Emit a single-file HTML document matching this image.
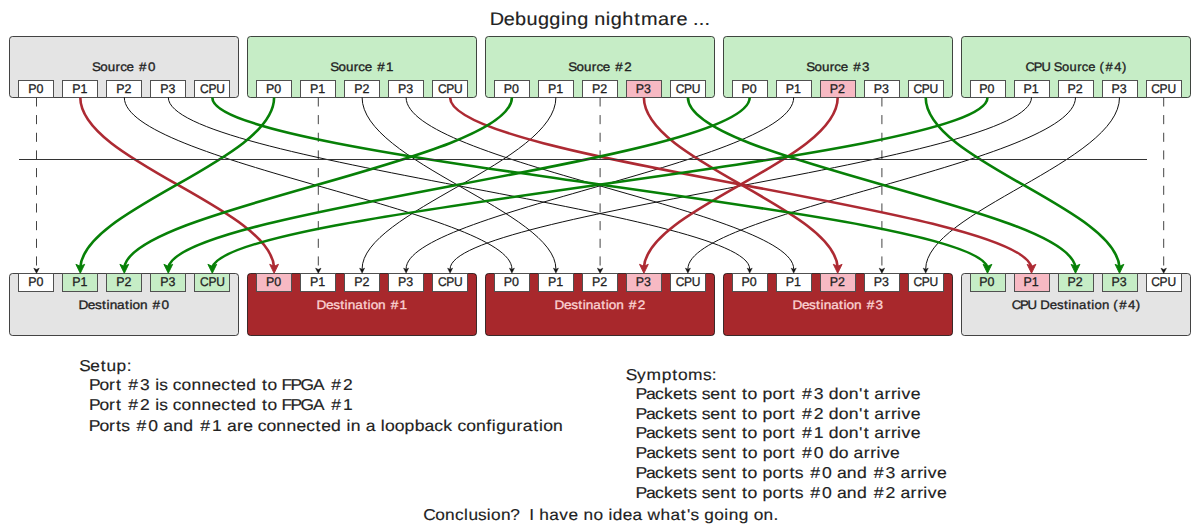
<!DOCTYPE html>
<html><head><meta charset="utf-8"><style>
html,body{margin:0;padding:0;background:#fff;width:1200px;height:530px;overflow:hidden}
svg{display:block;font-family:"Liberation Sans", sans-serif;text-rendering:geometricPrecision}
</style></head><body>
<svg width="1200" height="530" viewBox="0 0 1200 530">
<rect width="1200" height="530" fill="#fff"/>
<text x="448.16 461.08 471.37 481.82 492.27 502.72 513.28 517.75 528.19 538.57 543.88 554.43 558.90 569.35 580.33 586.53 602.12 612.58 619.01 628.86 634.10 639.34 644.57" y="24.9" font-size="18.2" fill="#222222" stroke="#222222" stroke-width="0.15" transform="scale(1.0928,1)">Debugging nightmare ...</text>
<rect x="9.5" y="36.5" width="229" height="61.00" rx="3" ry="3" fill="#e4e4e4" stroke="#000" stroke-opacity="0.72" stroke-width="1"/>
<rect x="18.5" y="80.5" width="35" height="17.00" fill="#ffffff" stroke="#505050" stroke-width="1"/>
<rect x="62.5" y="80.5" width="35" height="17.00" fill="#ffffff" stroke="#505050" stroke-width="1"/>
<rect x="106.5" y="80.5" width="35" height="17.00" fill="#ffffff" stroke="#505050" stroke-width="1"/>
<rect x="150.5" y="80.5" width="35" height="17.00" fill="#ffffff" stroke="#505050" stroke-width="1"/>
<rect x="194.5" y="80.5" width="35" height="17.00" fill="#ffffff" stroke="#505050" stroke-width="1"/>
<rect x="247.5" y="36.5" width="229" height="61.00" rx="3" ry="3" fill="#c6edc6" stroke="#000" stroke-opacity="0.72" stroke-width="1"/>
<rect x="256.5" y="80.5" width="35" height="17.00" fill="#ffffff" stroke="#505050" stroke-width="1"/>
<rect x="300.5" y="80.5" width="35" height="17.00" fill="#ffffff" stroke="#505050" stroke-width="1"/>
<rect x="344.5" y="80.5" width="35" height="17.00" fill="#ffffff" stroke="#505050" stroke-width="1"/>
<rect x="388.5" y="80.5" width="35" height="17.00" fill="#ffffff" stroke="#505050" stroke-width="1"/>
<rect x="432.5" y="80.5" width="35" height="17.00" fill="#ffffff" stroke="#505050" stroke-width="1"/>
<rect x="485.5" y="36.5" width="229" height="61.00" rx="3" ry="3" fill="#c6edc6" stroke="#000" stroke-opacity="0.72" stroke-width="1"/>
<rect x="494.5" y="80.5" width="35" height="17.00" fill="#ffffff" stroke="#505050" stroke-width="1"/>
<rect x="538.5" y="80.5" width="35" height="17.00" fill="#ffffff" stroke="#505050" stroke-width="1"/>
<rect x="582.5" y="80.5" width="35" height="17.00" fill="#ffffff" stroke="#505050" stroke-width="1"/>
<rect x="626.5" y="80.5" width="35" height="17.00" fill="#f7b9c3" stroke="#505050" stroke-width="1"/>
<rect x="670.5" y="80.5" width="35" height="17.00" fill="#ffffff" stroke="#505050" stroke-width="1"/>
<rect x="723.5" y="36.5" width="229" height="61.00" rx="3" ry="3" fill="#c6edc6" stroke="#000" stroke-opacity="0.72" stroke-width="1"/>
<rect x="732.5" y="80.5" width="35" height="17.00" fill="#ffffff" stroke="#505050" stroke-width="1"/>
<rect x="776.5" y="80.5" width="35" height="17.00" fill="#ffffff" stroke="#505050" stroke-width="1"/>
<rect x="820.5" y="80.5" width="35" height="17.00" fill="#f7b9c3" stroke="#505050" stroke-width="1"/>
<rect x="864.5" y="80.5" width="35" height="17.00" fill="#ffffff" stroke="#505050" stroke-width="1"/>
<rect x="908.5" y="80.5" width="35" height="17.00" fill="#ffffff" stroke="#505050" stroke-width="1"/>
<rect x="961.5" y="36.5" width="229" height="61.00" rx="3" ry="3" fill="#c6edc6" stroke="#000" stroke-opacity="0.72" stroke-width="1"/>
<rect x="970.5" y="80.5" width="35" height="17.00" fill="#ffffff" stroke="#505050" stroke-width="1"/>
<rect x="1014.5" y="80.5" width="35" height="17.00" fill="#ffffff" stroke="#505050" stroke-width="1"/>
<rect x="1058.5" y="80.5" width="35" height="17.00" fill="#ffffff" stroke="#505050" stroke-width="1"/>
<rect x="1102.5" y="80.5" width="35" height="17.00" fill="#ffffff" stroke="#505050" stroke-width="1"/>
<rect x="1146.5" y="80.5" width="35" height="17.00" fill="#ffffff" stroke="#505050" stroke-width="1"/>
<rect x="9.5" y="273.5" width="229" height="62.00" rx="3" ry="3" fill="#e4e4e4" stroke="#000" stroke-opacity="0.72" stroke-width="1"/>
<rect x="18.5" y="273.5" width="35" height="18.00" fill="#ffffff" stroke="#505050" stroke-width="1"/>
<rect x="62.5" y="273.5" width="35" height="18.00" fill="#c6edc6" stroke="#505050" stroke-width="1"/>
<rect x="106.5" y="273.5" width="35" height="18.00" fill="#c6edc6" stroke="#505050" stroke-width="1"/>
<rect x="150.5" y="273.5" width="35" height="18.00" fill="#c6edc6" stroke="#505050" stroke-width="1"/>
<rect x="194.5" y="273.5" width="35" height="18.00" fill="#c6edc6" stroke="#505050" stroke-width="1"/>
<rect x="247.5" y="273.5" width="229" height="62.00" rx="3" ry="3" fill="#a8282c" stroke="#000" stroke-opacity="0.72" stroke-width="1"/>
<rect x="256.5" y="273.5" width="35" height="18.00" fill="#f7b9c3" stroke="#505050" stroke-width="1"/>
<rect x="300.5" y="273.5" width="35" height="18.00" fill="#ffffff" stroke="#505050" stroke-width="1"/>
<rect x="344.5" y="273.5" width="35" height="18.00" fill="#ffffff" stroke="#505050" stroke-width="1"/>
<rect x="388.5" y="273.5" width="35" height="18.00" fill="#ffffff" stroke="#505050" stroke-width="1"/>
<rect x="432.5" y="273.5" width="35" height="18.00" fill="#ffffff" stroke="#505050" stroke-width="1"/>
<rect x="485.5" y="273.5" width="229" height="62.00" rx="3" ry="3" fill="#a8282c" stroke="#000" stroke-opacity="0.72" stroke-width="1"/>
<rect x="494.5" y="273.5" width="35" height="18.00" fill="#ffffff" stroke="#505050" stroke-width="1"/>
<rect x="538.5" y="273.5" width="35" height="18.00" fill="#ffffff" stroke="#505050" stroke-width="1"/>
<rect x="582.5" y="273.5" width="35" height="18.00" fill="#ffffff" stroke="#505050" stroke-width="1"/>
<rect x="626.5" y="273.5" width="35" height="18.00" fill="#f7b9c3" stroke="#505050" stroke-width="1"/>
<rect x="670.5" y="273.5" width="35" height="18.00" fill="#ffffff" stroke="#505050" stroke-width="1"/>
<rect x="723.5" y="273.5" width="229" height="62.00" rx="3" ry="3" fill="#a8282c" stroke="#000" stroke-opacity="0.72" stroke-width="1"/>
<rect x="732.5" y="273.5" width="35" height="18.00" fill="#ffffff" stroke="#505050" stroke-width="1"/>
<rect x="776.5" y="273.5" width="35" height="18.00" fill="#ffffff" stroke="#505050" stroke-width="1"/>
<rect x="820.5" y="273.5" width="35" height="18.00" fill="#f7b9c3" stroke="#505050" stroke-width="1"/>
<rect x="864.5" y="273.5" width="35" height="18.00" fill="#ffffff" stroke="#505050" stroke-width="1"/>
<rect x="908.5" y="273.5" width="35" height="18.00" fill="#ffffff" stroke="#505050" stroke-width="1"/>
<rect x="961.5" y="273.5" width="229" height="62.00" rx="3" ry="3" fill="#e4e4e4" stroke="#000" stroke-opacity="0.72" stroke-width="1"/>
<rect x="970.5" y="273.5" width="35" height="18.00" fill="#c6edc6" stroke="#505050" stroke-width="1"/>
<rect x="1014.5" y="273.5" width="35" height="18.00" fill="#f7b9c3" stroke="#505050" stroke-width="1"/>
<rect x="1058.5" y="273.5" width="35" height="18.00" fill="#c6edc6" stroke="#505050" stroke-width="1"/>
<rect x="1102.5" y="273.5" width="35" height="18.00" fill="#c6edc6" stroke="#505050" stroke-width="1"/>
<rect x="1146.5" y="273.5" width="35" height="18.00" fill="#ffffff" stroke="#505050" stroke-width="1"/>
<line x1="36.5" y1="97.4" x2="36.5" y2="269.4" stroke="#444" stroke-width="1" stroke-dasharray="9.1,8.57"/>
<polygon points="36.50,273.3 33.80,268.2 36.50,269.4 39.20,268.2" fill="#111" stroke="#111" stroke-width="0.5" stroke-linejoin="round"/>
<line x1="318.3" y1="97.4" x2="318.3" y2="269.4" stroke="#444" stroke-width="1" stroke-dasharray="9.1,8.57"/>
<polygon points="318.30,273.3 315.60,268.2 318.30,269.4 321.00,268.2" fill="#111" stroke="#111" stroke-width="0.5" stroke-linejoin="round"/>
<line x1="600.1000000000001" y1="97.4" x2="600.1000000000001" y2="269.4" stroke="#444" stroke-width="1" stroke-dasharray="9.1,8.57"/>
<polygon points="600.10,273.3 597.40,268.2 600.10,269.4 602.80,268.2" fill="#111" stroke="#111" stroke-width="0.5" stroke-linejoin="round"/>
<line x1="881.9000000000001" y1="97.4" x2="881.9000000000001" y2="269.4" stroke="#444" stroke-width="1" stroke-dasharray="9.1,8.57"/>
<polygon points="881.90,273.3 879.20,268.2 881.90,269.4 884.60,268.2" fill="#111" stroke="#111" stroke-width="0.5" stroke-linejoin="round"/>
<line x1="1163.7" y1="97.4" x2="1163.7" y2="269.4" stroke="#444" stroke-width="1" stroke-dasharray="9.1,8.57"/>
<polygon points="1163.70,273.3 1161.00,268.2 1163.70,269.4 1166.40,268.2" fill="#111" stroke="#111" stroke-width="0.5" stroke-linejoin="round"/>
<path d="M124.30,97.40 C124.30,161.60 511.90,211.90 511.90,269.00" fill="none" stroke="#111" stroke-width="1.0"/><polygon points="511.90,273.30 509.30,268.10 511.90,269.24 514.50,268.10" fill="#111" stroke="#111" stroke-width="0.35" stroke-linejoin="round"/>
<path d="M168.30,97.40 C168.30,161.60 749.70,211.90 749.70,269.00" fill="none" stroke="#111" stroke-width="1.0"/><polygon points="749.70,273.30 747.10,268.10 749.70,269.24 752.30,268.10" fill="#111" stroke="#111" stroke-width="0.35" stroke-linejoin="round"/>
<path d="M362.10,97.40 C362.10,161.60 555.90,211.90 555.90,269.00" fill="none" stroke="#111" stroke-width="1.0"/><polygon points="555.90,273.30 553.30,268.10 555.90,269.24 558.50,268.10" fill="#111" stroke="#111" stroke-width="0.35" stroke-linejoin="round"/>
<path d="M406.10,97.40 C406.10,161.60 793.70,211.90 793.70,269.00" fill="none" stroke="#111" stroke-width="1.0"/><polygon points="793.70,273.30 791.10,268.10 793.70,269.24 796.30,268.10" fill="#111" stroke="#111" stroke-width="0.35" stroke-linejoin="round"/>
<path d="M555.90,97.40 C555.90,161.60 362.10,211.90 362.10,269.00" fill="none" stroke="#111" stroke-width="1.0"/><polygon points="362.10,273.30 359.50,268.10 362.10,269.24 364.70,268.10" fill="#111" stroke="#111" stroke-width="0.35" stroke-linejoin="round"/>
<path d="M793.70,97.40 C793.70,161.60 406.10,211.90 406.10,269.00" fill="none" stroke="#111" stroke-width="1.0"/><polygon points="406.10,273.30 403.50,268.10 406.10,269.24 408.70,268.10" fill="#111" stroke="#111" stroke-width="0.35" stroke-linejoin="round"/>
<path d="M1031.50,97.40 C1031.50,161.60 450.10,211.90 450.10,269.00" fill="none" stroke="#111" stroke-width="1.0"/><polygon points="450.10,273.30 447.50,268.10 450.10,269.24 452.70,268.10" fill="#111" stroke="#111" stroke-width="0.35" stroke-linejoin="round"/>
<path d="M1075.50,97.40 C1075.50,161.60 687.90,211.90 687.90,269.00" fill="none" stroke="#111" stroke-width="1.0"/><polygon points="687.90,273.30 685.30,268.10 687.90,269.24 690.50,268.10" fill="#111" stroke="#111" stroke-width="0.35" stroke-linejoin="round"/>
<path d="M1119.50,97.40 C1119.50,161.60 925.70,211.90 925.70,269.00" fill="none" stroke="#111" stroke-width="1.0"/><polygon points="925.70,273.30 923.10,268.10 925.70,269.24 928.30,268.10" fill="#111" stroke="#111" stroke-width="0.35" stroke-linejoin="round"/>
<path d="M80.30,97.40 C80.30,160.19 269.81,207.93 274.03,267.00" fill="none" stroke="#ad2a33" stroke-width="2.6"/><polygon points="274.10,273.30 269.70,264.30 274.10,266.28 278.50,264.30" fill="#ad2a33" stroke="#ad2a33" stroke-width="0.91" stroke-linejoin="round"/>
<path d="M450.10,97.40 C450.10,160.19 1018.62,207.93 1031.29,267.00" fill="none" stroke="#ad2a33" stroke-width="2.6"/><polygon points="1031.50,273.30 1027.10,264.30 1031.50,266.28 1035.90,264.30" fill="#ad2a33" stroke="#ad2a33" stroke-width="0.91" stroke-linejoin="round"/>
<path d="M643.90,97.40 C643.90,160.19 833.41,207.93 837.63,267.00" fill="none" stroke="#ad2a33" stroke-width="2.6"/><polygon points="837.70,273.30 833.30,264.30 837.70,266.28 842.10,264.30" fill="#ad2a33" stroke="#ad2a33" stroke-width="0.91" stroke-linejoin="round"/>
<path d="M837.70,97.40 C837.70,160.19 648.19,207.93 643.97,267.00" fill="none" stroke="#ad2a33" stroke-width="2.6"/><polygon points="643.90,273.30 639.50,264.30 643.90,266.28 648.30,264.30" fill="#ad2a33" stroke="#ad2a33" stroke-width="0.91" stroke-linejoin="round"/>
<path d="M212.30,97.40 C212.30,160.19 970.33,207.93 987.21,267.00" fill="none" stroke="#078007" stroke-width="2.6"/><polygon points="987.50,273.30 983.10,264.30 987.50,266.28 991.90,264.30" fill="#078007" stroke="#078007" stroke-width="0.91" stroke-linejoin="round"/>
<path d="M274.10,97.40 C274.10,160.19 84.59,207.93 80.37,267.00" fill="none" stroke="#078007" stroke-width="2.6"/><polygon points="80.30,273.30 75.90,264.30 80.30,266.28 84.70,264.30" fill="#078007" stroke="#078007" stroke-width="0.91" stroke-linejoin="round"/>
<path d="M511.90,97.40 C511.90,160.19 132.88,207.93 124.44,267.00" fill="none" stroke="#078007" stroke-width="2.6"/><polygon points="124.30,273.30 119.90,264.30 124.30,266.28 128.70,264.30" fill="#078007" stroke="#078007" stroke-width="0.91" stroke-linejoin="round"/>
<path d="M687.90,97.40 C687.90,160.19 1066.92,207.93 1075.36,267.00" fill="none" stroke="#078007" stroke-width="2.6"/><polygon points="1075.50,273.30 1071.10,264.30 1075.50,266.28 1079.90,264.30" fill="#078007" stroke="#078007" stroke-width="0.91" stroke-linejoin="round"/>
<path d="M749.70,97.40 C749.70,160.19 181.18,207.93 168.51,267.00" fill="none" stroke="#078007" stroke-width="2.6"/><polygon points="168.30,273.30 163.90,264.30 168.30,266.28 172.70,264.30" fill="#078007" stroke="#078007" stroke-width="0.91" stroke-linejoin="round"/>
<path d="M925.70,97.40 C925.70,160.19 1115.21,207.93 1119.43,267.00" fill="none" stroke="#078007" stroke-width="2.6"/><polygon points="1119.50,273.30 1115.10,264.30 1119.50,266.28 1123.90,264.30" fill="#078007" stroke="#078007" stroke-width="0.91" stroke-linejoin="round"/>
<path d="M987.50,97.40 C987.50,160.19 229.47,207.93 212.59,267.00" fill="none" stroke="#078007" stroke-width="2.6"/><polygon points="212.30,273.30 207.90,264.30 212.30,266.28 216.70,264.30" fill="#078007" stroke="#078007" stroke-width="0.91" stroke-linejoin="round"/>
<line x1="19" y1="159.5" x2="1147" y2="159.5" stroke="#333" stroke-width="1"/>
<text x="85.55 93.18 100.12 107.33 111.65 117.55 124.47 129.19 137.40" y="70.7" font-size="12.4" fill="#222222" stroke="#222222" stroke-width="0.3" transform="scale(1.0767,1)">Source #0</text>
<text x="28.53 36.89" y="92.6" font-size="12.6" fill="#222222" stroke="#222222" stroke-width="0.3" transform="scale(0.9867,1)">P0</text>
<text x="73.28 81.64" y="92.6" font-size="12.6" fill="#222222" stroke="#222222" stroke-width="0.3" transform="scale(0.9867,1)">P1</text>
<text x="117.94 126.30" y="92.6" font-size="12.6" fill="#222222" stroke="#222222" stroke-width="0.3" transform="scale(0.9867,1)">P2</text>
<text x="162.41 170.77" y="92.6" font-size="12.6" fill="#222222" stroke="#222222" stroke-width="0.3" transform="scale(0.9867,1)">P3</text>
<text x="210.06 218.74 226.94" y="92.6" font-size="12.6" fill="#222222" stroke="#222222" stroke-width="0.3" transform="scale(0.9527,1)">CPU</text>
<text x="306.74 314.37 321.31 328.52 332.84 338.74 345.66 350.38 358.59" y="70.7" font-size="12.4" fill="#222222" stroke="#222222" stroke-width="0.3" transform="scale(1.0767,1)">Source #1</text>
<text x="269.54 277.90" y="92.6" font-size="12.6" fill="#222222" stroke="#222222" stroke-width="0.3" transform="scale(0.9867,1)">P0</text>
<text x="314.29 322.65" y="92.6" font-size="12.6" fill="#222222" stroke="#222222" stroke-width="0.3" transform="scale(0.9867,1)">P1</text>
<text x="358.94 367.30" y="92.6" font-size="12.6" fill="#222222" stroke="#222222" stroke-width="0.3" transform="scale(0.9867,1)">P2</text>
<text x="403.41 411.77" y="92.6" font-size="12.6" fill="#222222" stroke="#222222" stroke-width="0.3" transform="scale(0.9867,1)">P3</text>
<text x="459.67 468.35 476.55" y="92.6" font-size="12.6" fill="#222222" stroke="#222222" stroke-width="0.3" transform="scale(0.9527,1)">CPU</text>
<text x="527.84 535.48 542.42 549.62 553.94 559.84 566.77 571.49 579.70" y="70.7" font-size="12.4" fill="#222222" stroke="#222222" stroke-width="0.3" transform="scale(1.0767,1)">Source #2</text>
<text x="510.55 518.91" y="92.6" font-size="12.6" fill="#222222" stroke="#222222" stroke-width="0.3" transform="scale(0.9867,1)">P0</text>
<text x="555.30 563.66" y="92.6" font-size="12.6" fill="#222222" stroke="#222222" stroke-width="0.3" transform="scale(0.9867,1)">P1</text>
<text x="599.95 608.31" y="92.6" font-size="12.6" fill="#222222" stroke="#222222" stroke-width="0.3" transform="scale(0.9867,1)">P2</text>
<text x="644.42 652.78" y="92.6" font-size="12.6" fill="#222222" stroke="#222222" stroke-width="0.3" transform="scale(0.9867,1)">P3</text>
<text x="709.27 717.95 726.15" y="92.6" font-size="12.6" fill="#222222" stroke="#222222" stroke-width="0.3" transform="scale(0.9527,1)">CPU</text>
<text x="748.78 756.41 763.36 770.56 774.88 780.78 787.71 792.42 800.64" y="70.7" font-size="12.4" fill="#222222" stroke="#222222" stroke-width="0.3" transform="scale(1.0767,1)">Source #3</text>
<text x="751.55 759.91" y="92.6" font-size="12.6" fill="#222222" stroke="#222222" stroke-width="0.3" transform="scale(0.9867,1)">P0</text>
<text x="796.30 804.66" y="92.6" font-size="12.6" fill="#222222" stroke="#222222" stroke-width="0.3" transform="scale(0.9867,1)">P1</text>
<text x="840.96 849.32" y="92.6" font-size="12.6" fill="#222222" stroke="#222222" stroke-width="0.3" transform="scale(0.9867,1)">P2</text>
<text x="885.43 893.79" y="92.6" font-size="12.6" fill="#222222" stroke="#222222" stroke-width="0.3" transform="scale(0.9867,1)">P3</text>
<text x="958.88 967.56 975.76" y="92.6" font-size="12.6" fill="#222222" stroke="#222222" stroke-width="0.3" transform="scale(0.9527,1)">CPU</text>
<text x="982.76 990.59 997.92 1006.71 1009.78 1017.63 1024.79 1032.18 1036.67 1042.77 1049.86 1053.59 1059.26 1067.74 1075.02" y="70.7" font-size="12.4" fill="#222222" stroke="#222222" stroke-width="0.3" transform="scale(1.0436,1)">CPU Source (#4)</text>
<text x="992.56 1000.92" y="92.6" font-size="12.6" fill="#222222" stroke="#222222" stroke-width="0.3" transform="scale(0.9867,1)">P0</text>
<text x="1037.31 1045.67" y="92.6" font-size="12.6" fill="#222222" stroke="#222222" stroke-width="0.3" transform="scale(0.9867,1)">P1</text>
<text x="1081.96 1090.32" y="92.6" font-size="12.6" fill="#222222" stroke="#222222" stroke-width="0.3" transform="scale(0.9867,1)">P2</text>
<text x="1126.43 1134.79" y="92.6" font-size="12.6" fill="#222222" stroke="#222222" stroke-width="0.3" transform="scale(0.9867,1)">P3</text>
<text x="1208.49 1217.17 1225.37" y="92.6" font-size="12.6" fill="#222222" stroke="#222222" stroke-width="0.3" transform="scale(0.9527,1)">CPU</text>
<text x="71.42 80.02 86.58 92.95 96.95 99.86 106.68 113.89 117.90 120.69 127.50 134.42 139.01 147.07" y="308.7" font-size="12.4" fill="#222222" stroke="#222222" stroke-width="0.3" transform="scale(1.0979,1)">Destination #0</text>
<text x="28.53 36.89" y="286.25" font-size="12.6" fill="#222222" stroke="#222222" stroke-width="0.3" transform="scale(0.9867,1)">P0</text>
<text x="73.28 81.64" y="286.25" font-size="12.6" fill="#222222" stroke="#222222" stroke-width="0.3" transform="scale(0.9867,1)">P1</text>
<text x="117.94 126.30" y="286.25" font-size="12.6" fill="#222222" stroke="#222222" stroke-width="0.3" transform="scale(0.9867,1)">P2</text>
<text x="162.41 170.77" y="286.25" font-size="12.6" fill="#222222" stroke="#222222" stroke-width="0.3" transform="scale(0.9867,1)">P3</text>
<text x="210.06 218.74 226.94" y="286.25" font-size="12.6" fill="#222222" stroke="#222222" stroke-width="0.3" transform="scale(0.9527,1)">CPU</text>
<text x="288.33 296.93 303.49 309.86 313.86 316.77 323.59 330.80 334.81 337.60 344.41 351.34 355.93 363.98" y="308.7" font-size="12.4" fill="#fbd3d3" stroke="#fbd3d3" stroke-width="0.3" transform="scale(1.0979,1)">Destination #1</text>
<text x="269.54 277.90" y="286.25" font-size="12.6" fill="#222222" stroke="#222222" stroke-width="0.3" transform="scale(0.9867,1)">P0</text>
<text x="314.29 322.65" y="286.25" font-size="12.6" fill="#222222" stroke="#222222" stroke-width="0.3" transform="scale(0.9867,1)">P1</text>
<text x="358.94 367.30" y="286.25" font-size="12.6" fill="#222222" stroke="#222222" stroke-width="0.3" transform="scale(0.9867,1)">P2</text>
<text x="403.41 411.77" y="286.25" font-size="12.6" fill="#222222" stroke="#222222" stroke-width="0.3" transform="scale(0.9867,1)">P3</text>
<text x="459.67 468.35 476.55" y="286.25" font-size="12.6" fill="#222222" stroke="#222222" stroke-width="0.3" transform="scale(0.9527,1)">CPU</text>
<text x="505.16 513.76 520.32 526.69 530.69 533.60 540.42 547.63 551.64 554.43 561.24 568.16 572.76 580.81" y="308.7" font-size="12.4" fill="#fbd3d3" stroke="#fbd3d3" stroke-width="0.3" transform="scale(1.0979,1)">Destination #2</text>
<text x="510.55 518.91" y="286.25" font-size="12.6" fill="#222222" stroke="#222222" stroke-width="0.3" transform="scale(0.9867,1)">P0</text>
<text x="555.30 563.66" y="286.25" font-size="12.6" fill="#222222" stroke="#222222" stroke-width="0.3" transform="scale(0.9867,1)">P1</text>
<text x="599.95 608.31" y="286.25" font-size="12.6" fill="#222222" stroke="#222222" stroke-width="0.3" transform="scale(0.9867,1)">P2</text>
<text x="644.42 652.78" y="286.25" font-size="12.6" fill="#222222" stroke="#222222" stroke-width="0.3" transform="scale(0.9867,1)">P3</text>
<text x="709.27 717.95 726.15" y="286.25" font-size="12.6" fill="#222222" stroke="#222222" stroke-width="0.3" transform="scale(0.9527,1)">CPU</text>
<text x="721.83 730.43 736.98 743.35 747.36 750.27 757.08 764.30 768.30 771.10 777.90 784.83 789.42 797.48" y="308.7" font-size="12.4" fill="#fbd3d3" stroke="#fbd3d3" stroke-width="0.3" transform="scale(1.0979,1)">Destination #3</text>
<text x="751.55 759.91" y="286.25" font-size="12.6" fill="#222222" stroke="#222222" stroke-width="0.3" transform="scale(0.9867,1)">P0</text>
<text x="796.30 804.66" y="286.25" font-size="12.6" fill="#222222" stroke="#222222" stroke-width="0.3" transform="scale(0.9867,1)">P1</text>
<text x="840.96 849.32" y="286.25" font-size="12.6" fill="#222222" stroke="#222222" stroke-width="0.3" transform="scale(0.9867,1)">P2</text>
<text x="885.43 893.79" y="286.25" font-size="12.6" fill="#222222" stroke="#222222" stroke-width="0.3" transform="scale(0.9867,1)">P3</text>
<text x="958.88 967.56 975.76" y="286.25" font-size="12.6" fill="#222222" stroke="#222222" stroke-width="0.3" transform="scale(0.9527,1)">CPU</text>
<text x="950.52 958.20 965.38 974.05 977.43 986.27 993.02 999.55 1003.67 1006.73 1013.76 1021.15 1025.27 1028.22 1035.24 1042.33 1045.98 1051.52 1059.83 1067.00" y="308.7" font-size="12.4" fill="#222222" stroke="#222222" stroke-width="0.3" transform="scale(1.0644,1)">CPU Destination (#4)</text>
<text x="992.56 1000.92" y="286.25" font-size="12.6" fill="#222222" stroke="#222222" stroke-width="0.3" transform="scale(0.9867,1)">P0</text>
<text x="1037.31 1045.67" y="286.25" font-size="12.6" fill="#222222" stroke="#222222" stroke-width="0.3" transform="scale(0.9867,1)">P1</text>
<text x="1081.96 1090.32" y="286.25" font-size="12.6" fill="#222222" stroke="#222222" stroke-width="0.3" transform="scale(0.9867,1)">P2</text>
<text x="1126.43 1134.79" y="286.25" font-size="12.6" fill="#222222" stroke="#222222" stroke-width="0.3" transform="scale(0.9867,1)">P3</text>
<text x="1208.49 1217.17 1225.37" y="286.25" font-size="12.6" fill="#222222" stroke="#222222" stroke-width="0.3" transform="scale(0.9527,1)">CPU</text>
<text x="72.66 82.64 92.18 97.46 106.70 115.99" y="370.6" font-size="15.8" fill="#222222" stroke="#222222" stroke-width="0.15" transform="scale(1.0923,1)">Setup:</text>
<text x="80.85 90.52 99.17 105.42 110.56 116.72 127.39 136.50 141.25 144.84 152.66 157.19 165.15 174.17 183.34 192.38 201.26 209.83 214.92 223.97 233.07 238.20 243.27 252.20 256.03 264.12 273.22 284.65 294.98 301.14 311.81" y="390.3" font-size="15.8" fill="#222222" stroke="#222222" stroke-width="0.15" transform="scale(1.0998,1)">Port #3 is connected to FPGA #2</text>
<text x="80.85 90.52 99.17 105.42 110.56 116.72 127.39 136.50 141.25 144.84 152.66 157.19 165.15 174.17 183.34 192.38 201.26 209.83 214.92 223.97 233.07 238.20 243.27 252.20 256.03 264.12 273.22 284.65 294.98 301.14 311.81" y="410.4" font-size="15.8" fill="#222222" stroke="#222222" stroke-width="0.15" transform="scale(1.0998,1)">Port #2 is connected to FPGA #1</text>
<text x="79.99 89.57 98.15 104.35 109.13 116.90 122.98 133.55 142.58 147.05 155.99 165.08 174.10 180.19 190.75 199.79 204.26 213.36 218.95 227.52 231.98 239.86 248.79 257.87 266.82 275.62 284.12 289.14 298.10 307.12 311.83 315.73 324.75 329.22 338.08 342.79 346.53 355.30 364.23 373.33 382.27 391.04 399.13 407.32 411.78 419.66 428.59 437.85 442.80 446.70 455.79 465.05 470.62 480.02 485.26 489.00 497.92" y="430.5" font-size="15.8" fill="#222222" stroke="#222222" stroke-width="0.15" transform="scale(1.1108,1)">Ports #0 and #1 are connected in a loopback configuration</text>
<text x="568.91 579.11 587.81 601.64 611.27 616.34 625.63 639.08 647.04" y="379.5" font-size="15.8" fill="#222222" stroke="#222222" stroke-width="0.15" transform="scale(1.0999,1)">Symptoms:</text>
<text x="569.42 578.97 587.07 595.12 603.20 612.07 616.83 624.57 628.80 636.46 645.37 654.89 659.95 665.02 669.98 678.81 683.40 692.30 701.36 707.52 712.59 718.63 729.15 738.15 742.75 751.64 760.53 769.89 773.97 779.03 783.47 792.54 798.40 803.94 807.95 816.12" y="398.6" font-size="15.8" fill="#222222" stroke="#222222" stroke-width="0.15" transform="scale(1.1159,1)">Packets sent to port #3 don't arrive</text>
<text x="569.42 578.97 587.07 595.12 603.20 612.07 616.83 624.57 628.80 636.46 645.37 654.89 659.95 665.02 669.98 678.81 683.40 692.30 701.36 707.52 712.59 718.63 729.15 738.15 742.75 751.64 760.53 769.89 773.97 779.03 783.47 792.54 798.40 803.94 807.95 816.12" y="418.5" font-size="15.8" fill="#222222" stroke="#222222" stroke-width="0.15" transform="scale(1.1159,1)">Packets sent to port #2 don't arrive</text>
<text x="569.42 578.97 587.07 595.12 603.20 612.07 616.83 624.57 628.80 636.46 645.37 654.89 659.95 665.02 669.98 678.81 683.40 692.30 701.36 707.52 712.59 718.63 729.15 738.15 742.75 751.64 760.53 769.89 773.97 779.03 783.47 792.54 798.40 803.94 807.95 816.12" y="438.4" font-size="15.8" fill="#222222" stroke="#222222" stroke-width="0.15" transform="scale(1.1159,1)">Packets sent to port #1 don't arrive</text>
<text x="572.34 581.94 590.07 598.17 606.28 615.20 619.99 627.76 632.02 639.72 648.67 658.23 663.32 668.41 673.41 682.27 686.90 695.84 704.94 711.13 716.22 722.31 732.88 741.92 746.55 755.48 764.35 768.82 777.93 783.82 789.39 793.43 801.64" y="458.2" font-size="15.8" fill="#222222" stroke="#222222" stroke-width="0.15" transform="scale(1.1103,1)">Packets sent to port #0 do arrive</text>
<text x="569.36 578.91 587.01 595.06 603.13 612.01 616.77 624.51 628.73 636.39 645.30 654.82 659.88 664.95 669.91 678.74 683.33 692.23 701.28 707.45 712.21 719.95 725.99 736.50 745.51 749.95 758.84 767.89 776.88 782.93 793.44 802.44 806.88 815.95 821.82 827.35 831.36 839.53" y="478.1" font-size="15.8" fill="#222222" stroke="#222222" stroke-width="0.15" transform="scale(1.1160,1)">Packets sent to ports #0 and #3 arrive</text>
<text x="569.36 578.91 587.01 595.06 603.13 612.01 616.77 624.51 628.73 636.39 645.30 654.82 659.88 664.95 669.91 678.74 683.33 692.23 701.28 707.45 712.21 719.95 725.99 736.50 745.51 749.95 758.84 767.89 776.88 782.93 793.44 802.44 806.88 815.95 821.82 827.35 831.36 839.53" y="497.9" font-size="15.8" fill="#222222" stroke="#222222" stroke-width="0.15" transform="scale(1.1160,1)">Packets sent to ports #0 and #2 arrive</text>
<text x="387.47 398.33 407.40 416.47 424.70 428.70 437.56 445.57 449.41 458.49 466.97 475.36 479.99 484.45 488.92 493.65 502.73 511.95 520.30 529.30 534.04 543.11 552.08 556.86 560.87 569.98 578.93 587.91 592.67 604.56 613.64 623.16 628.71 632.06 639.93 644.67 653.75 662.87 666.88 676.12 685.26 689.83 698.91 708.04" y="520.1" font-size="15.8" fill="#222222" stroke="#222222" stroke-width="0.15" transform="scale(1.0926,1)">Conclusion?&#160; I have no idea what's going on.</text>
</svg></body></html>
